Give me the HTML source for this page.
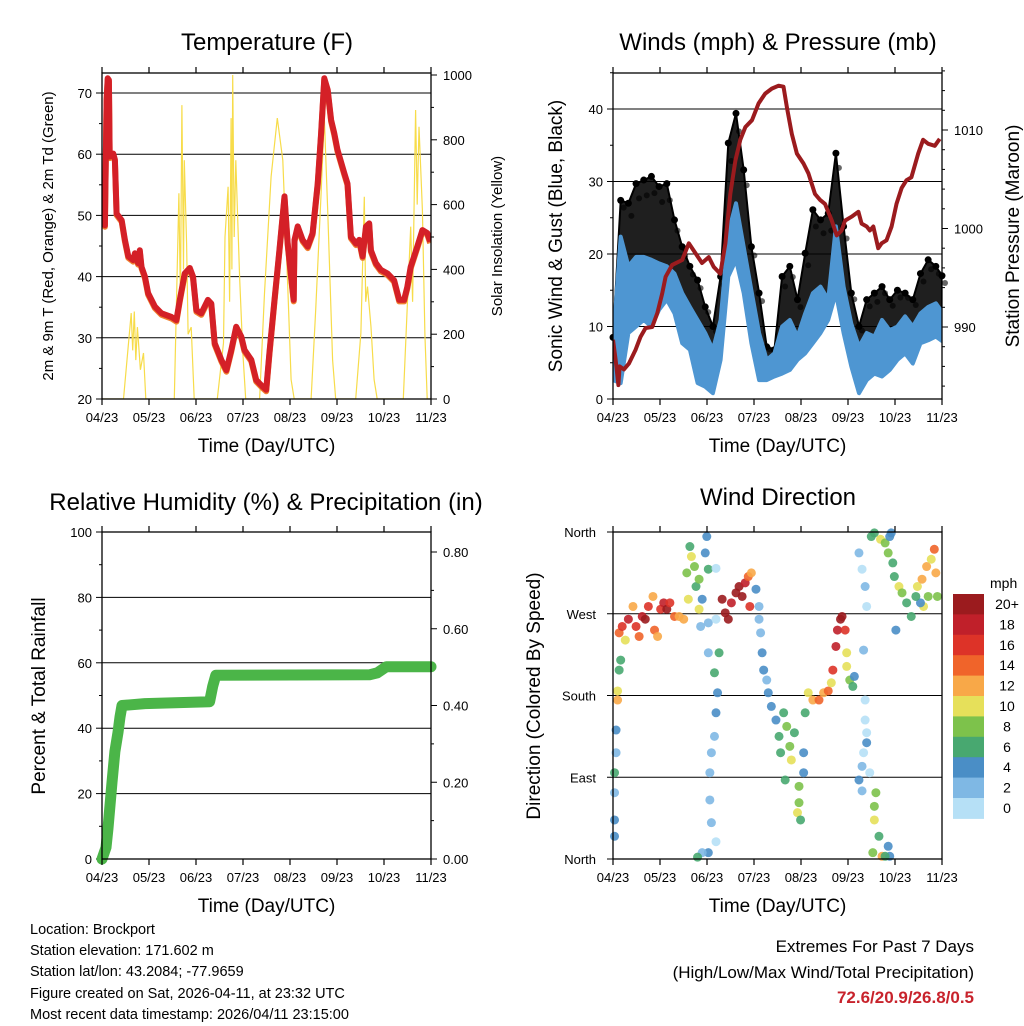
<!DOCTYPE html>
<html><head><meta charset="utf-8"><title>Station Chart</title>
<style>
html,body{margin:0;padding:0;background:#fff;}
svg{display:block;font-family:"Liberation Sans",Arial,sans-serif;}
</style></head>
<body>
<svg id="chart" width="1024" height="1024" viewBox="0 0 1024 1024" xmlns="http://www.w3.org/2000/svg">
<rect x="0" y="0" width="1024" height="1024" fill="#fff"/>
<g id="layer"></g>
</svg>
<script>
// ---------- DATA ----------
const dateTicks = ["04/23","05/23","06/23","07/23","08/23","09/23","10/23","11/23"];
const dayMax = 214;

// Temperature (F)
const tempDays = [0,1.9,3.0,3.7,4.5,5.0,7.3,8.4,9.5,12.8,14.9,17.1,20.3,21.4,23.5,24.6,25.7,27.9,30.0,34.4,38.7,45.2,48.4,50.6,53.8,57.1,59.2,61.4,64.6,68.9,71.1,73.3,77.6,80.9,84.1,87.3,90.6,92.7,97.1,100.3,104.6,106.8,108.9,112.2,115.4,118.7,120.8,123.0,124.7,125.2,127.3,130.5,133.8,137.0,140.3,142.5,144.6,146.8,149.0,151.1,153.2,157.6,159.7,161.9,165.2,167.3,169.5,171.7,173.8,174.9,178.1,181.4,185.7,190.0,193.3,196.5,198.6,200.8,205.1,208.4,211.6,213.5];
const tempVals = [50.3,48.4,68.9,72.4,72.1,59.6,60.1,59.1,50.3,49.2,46.0,43.3,42.7,43.8,42.2,44.3,41.6,40.0,37.3,35.1,34.0,33.4,32.9,36.2,40.5,41.4,40.0,34.5,34.0,36.2,35.6,29.1,26.4,24.7,28.0,31.8,30.2,28.0,26.4,23.1,22.0,21.5,27.5,36.2,44.3,53.1,45.4,40.0,36.2,46.0,48.2,46.0,44.9,47.1,55.2,63.4,72.4,70.5,65.6,63.4,60.7,56.9,55.2,46.5,45.4,46.0,43.3,48.2,48.7,44.3,42.2,41.1,40.5,39.4,36.2,36.2,38.3,41.6,44.9,47.6,47.1,45.7];
const tempTicks = [20,30,40,50,60,70];

// Solar insolation (W/m2)
const solarDays = [0,14,19,20,21,22,23,25,27,28.5,47,50,51,52,53,53.5,55,56,58,60,75,79,80,82,83,84,84.5,85,86,87,89.5,91.5,93.5,102.5,105.7,110,114,117.6,121,123,125,136,139,142.5,144.6,146.8,150,152,165,168.4,170.6,171.5,172.7,175,177,179,196,200.8,202,204,205,206.2,208.4,210,211.5,214];
const solarVals = [0,0,265,150,270,120,222,90,142,0,0,635,300,907,400,737,480,200,222,0,0,173,500,655,300,867,400,1000,500,737,377,150,0,0,327,686,867,737,327,60,0,0,275,635,871,583,120,0,0,204,624,300,347,222,60,0,0,532,300,892,600,840,583,200,0,0];
const solarTicks = [0,200,400,600,800,1000];

// Winds (mph) on a 5-day grid
const windDays = [0,5,10,15,20,25,30,35,40,45,50,55,60,65,70,75,80,85,90,95,100,105,110,115,120,125,130,135,140,145,150,155,160,165,170,175,180,185,190,195,200,205,210,214];
const windLow  = [2.6,2.2,9.1,10,10.9,10,12.3,13.7,11.8,7.7,6.8,2.2,1.7,0.8,5.4,16.9,19.2,14.6,7.7,2.6,2.6,3.1,3.5,4,5.4,6.3,7.7,9.1,10.9,14.6,9.1,4.5,0.8,2.6,3.5,3.1,4,5.4,6.3,4.9,7.7,8.1,8.6,8.0];
const windHigh = [7.7,22.4,18.3,19.6,19.6,19.2,18.7,18.3,17.3,14.6,12.7,10.9,9.1,6.8,10.9,22.9,27,21,15,9.1,5.4,6.3,10,10.9,8.6,11.8,14.6,15.5,13.7,23.8,15.5,10.4,7.2,9.1,8.6,10.9,9.5,10,11.4,10,11.8,12.7,13.2,12.0];
const gustHigh = [8.5,27.4,27,29.7,30.2,30.7,29.3,29.7,24.7,21,18.3,16.4,12.7,10,16.9,35.3,39.4,31.6,21,14.6,7.2,6.8,16.9,18.3,13.7,20.1,26.1,24.7,25.6,33.9,23.8,14.6,10,13.7,14.6,15.5,13.7,15,14.6,13.7,17.3,19.2,18.3,17.0];
const windTicks = [0,10,20,30,40];

// Station pressure (mb)
const presDays = [0,1.7,3.5,4.3,7.1,10.4,14.7,17.9,21.2,25.5,28.8,32.0,34.2,38.5,45.0,49.3,53.6,57.9,62.3,65.5,69.8,73.1,76.3,79.6,82.8,86.1,90.4,94.7,99.0,103.3,107.7,110.9,113.1,116.3,119.6,123.9,127.1,131.4,134.7,137.9,142.3,145.5,148.7,150.9,155.2,159.6,161.7,165.0,167.1,169.3,172.5,174.7,177.9,181.2,184.4,187.7,190.9,194.1,198.5,201.7,205.0,209.3,212.5];
const presVals = [988.7,986.7,984.1,986.0,985.7,986.3,987.7,989.0,989.9,990.0,991.4,993.4,995.1,996.3,996.8,998.5,997.5,996.5,997.1,996.1,995.4,998.5,1003.5,1006.9,1009.0,1010.3,1011.0,1012.7,1013.7,1014.2,1014.5,1014.4,1012.3,1009.6,1007.6,1006.6,1005.6,1003.5,1002.9,1002.5,1000.8,999.3,999.8,1000.8,1001.2,1001.7,1000.5,1000.2,999.8,1000.2,998.0,998.5,998.8,1000.2,1002.5,1004.1,1004.9,1005.2,1007.6,1009.0,1008.6,1008.4,1009.1];
const presTicks = [990,1000,1010];

// Precipitation (in)
const precipDays = [0,2.6,3.9,5.2,6.5,8.4,10.4,11.7,13,27.9,70,72,74,174,179,185,214];
const precipVals = [0,0.03,0.08,0.14,0.2,0.28,0.33,0.37,0.40,0.405,0.41,0.45,0.479,0.48,0.485,0.501,0.501];
const rhTicks = [0,20,40,60,80,100];
const precipTicks = ["0.00","0.20","0.40","0.60","0.80"];

// Wind direction (deg) colored by speed (mph)
const dirDays = [1,1,1,1,2,2,3,3,4,5, 4,6,8,10,13,15,17,19,21,23,26,27,29,31,33,35,37,40,43,46, 48,50,51,53,54,56,58,60,61,62,49,56, 57,62,67,67,62,66,69,68,67,66,64,63,63,64,67,62,58,55, 71,73,75,77,80,82,84,86,88,90,89,93,95, 95,96,97,98,100,101,103,106,108,109,111,113,115,116,112,118, 121,121,120,122,124,124,125, 127,130,134,137,140,142,143, 145,146,148,149,151,152,152,154,156,157, 160,162,164,165,163,164,164,165,165,163,162,167,162,160, 168,170,174,177,179,180,181,182,183,186,188,191,194,184, 171,170,170,173,169,175,179,180,177, 198,201,204,207,209,210,211,205,202,200,197];
const dirDeg  = [25,43,73,95,117,142,175,185,208,219, 249,256,241,264,278,256,245,267,264,278,289,252,245,275,282,275,282,267,267,264, 315,344,333,322,300,308,286,337,355,319,286,275, 256,260,264,320,227,205,227,183,161,135,117,95,65,40,19,7,7,2, 286,271,264,282,293,300,289,304,311,315,278,297,278, 264,249,227,208,197,183,168,153,135,117,161,146,124,109,87,139, 80,62,51,43,95,117,161, 183,175,175,183,185,194,208, 234,252,264,267,252,227,212,197,190,201, 337,319,300,278,230,175,153,139,128,117,102,95,75,87, 355,359,352,348,337,355,359,326,311,300,293,282,267,252, 73,58,43,25,7,3,14,3,3, 300,308,322,330,341,315,289,289,278,282,289];
const dirSpd  = [4,4,3,6,2,4,12,10,7,6, 14,16,10,18,12,16,14,18,20,16,12,14,12,16,18,20,16,14,12,12, 8,6,10,8,6,8,4,5,4,6,10,10, 2,3,1,1,3,6,6,4,4,2,3,2,2,2,1,4,2,6, 20,20,20,18,20,20,20,18,14,12,16,4,3, 3,2,4,4,3,4,4,4,6,6,6,8,8,10,7,6, 8,8,10,7,4,4,6, 10,12,14,12,14,10,16, 18,18,20,20,16,10,10,8,6,4, 3,1,2,0,2,1,1,1,4,1,2,0,3,4, 6,6,10,8,8,4,4,6,6,10,8,6,6,4, 8,8,10,6,8,12,4,4,6, 10,12,12,10,14,12,8,8,10,4,6];
const dirTicks = ["North","East","South","West","North"];
const speedBins = ["0","2","4","6","8","10","12","14","16","18","20+"];
const speedColors = ["#b6e0f6","#7fb8e4","#4a8ec6","#48a870","#7dc24b","#e6e05a","#f8a848","#f0642a","#dd3328","#c0202a","#9b1b1e"];

// ---------- HELPERS ----------
const NS = "http://www.w3.org/2000/svg";
const root = document.getElementById("layer");
function mk(tag, attrs, parent) {
  const e = document.createElementNS(NS, tag);
  for (const k in attrs) e.setAttribute(k, attrs[k]);
  (parent || root).appendChild(e);
  return e;
}
function txt(s, x, y, size, anchor, parent, extra) {
  const e = mk("text", Object.assign({x:x, y:y, "font-size":size, "text-anchor":anchor||"middle", fill:"#000"}, extra||{}), parent);
  e.textContent = s;
  return e;
}
function lin(d0,d1,r0,r1){ return v => r0 + (v-d0)*(r1-r0)/(d1-d0); }

function panel(name) {
  const g = mk("g", {});
  
  
  return g;
}
function frame(g, x0,x1,y0,y1){
  const r = mk("rect",{x:x0,y:y0,width:x1-x0,height:y1-y0,fill:"none",stroke:"#000","stroke-width":1.3}, g);
  
  
}
function xAxis(g, x0,x1,y0,y1){
  const xs = lin(0,7,x0,x1);
  for (let i=0;i<dateTicks.length;i++){
    const x = xs(i);
    mk("line",{x1:x,y1:y1,x2:x,y2:y1+6,stroke:"#000","stroke-width":1.2},g);
    mk("line",{x1:x,y1:y0,x2:x,y2:y0-6,stroke:"#000","stroke-width":1.2},g);
    const t = txt(dateTicks[i], x, y1+23, 13, "middle", g);
    
    
  }
  const t = txt("Time (Day/UTC)", (x0+x1)/2, y1+53, 19, "middle", g);
  
  
}
function grid(g, x0,x1,y){
  const l = mk("line",{x1:x0,y1:y,x2:x1,y2:y,stroke:"#000","stroke-width":1},g);
  
  
}
function leftTick(g,x0,y,label,major){
  mk("line",{x1:x0,y1:y,x2:x0-(major?6:3),y2:y,stroke:"#000","stroke-width":1},g);
  if(label!==null){
    const t = txt(label, x0-10, y+5, 13, "end", g);
    
    
  }
}
function rightTick(g,x1,y,label,major){
  mk("line",{x1:x1,y1:y,x2:x1+(major?6:3),y2:y,stroke:"#000","stroke-width":1},g);
  if(label!==null){
    const t = txt(label, x1+12, y+5, 13, "start", g);
    
    
  }
}
function vTitle(g, s, x, y, size, name){
  const t = txt(s, x, y, size, "middle", g, {transform:"rotate(-90 "+x+" "+y+")"});
  
  
}
function title(g, s, x, y){
  const t = txt(s, x, y, 24, "middle", g);
  
  
}
function pathFrom(xsArr, ysArr, xf, yf){
  let d="";
  for(let i=0;i<xsArr.length;i++) d += (i?"L":"M")+xf(xsArr[i]).toFixed(1)+","+yf(ysArr[i]).toFixed(1);
  return d;
}

// ---------- PANEL 1: TEMPERATURE ----------
(function(){
  const x0=102,x1=431,y0=73,y1=399;
  const g = panel("temperature-panel");
  const X = lin(0,dayMax,x0,x1);
  const Y = lin(20,70,399,93);
  const YS = lin(0,1000,399,75);
  title(g,"Temperature (F)", 267, 50);
  tempTicks.forEach(v=>{ if(v>20) grid(g,x0,x1,Y(v)); leftTick(g,x0,Y(v),String(v),true); });
  for(let v=25;v<=70;v+=10) leftTick(g,x0,Y(v),null,false);
  solarTicks.forEach(v=>rightTick(g,x1,YS(v),String(v),true));
  for(let v=100;v<1000;v+=200) rightTick(g,x1,YS(v),null,false);
  const clip = mk("clipPath",{id:"c1"},g); mk("rect",{x:x0,y:y0,width:x1-x0,height:y1-y0},clip);
  const sol = mk("path",{d:pathFrom(solarDays,solarVals,X,YS),fill:"none",stroke:"#f7dc4a","stroke-width":1.2,"clip-path":"url(#c1)"},g);
  
  
  const tOr = mk("path",{d:pathFrom(tempDays,tempVals,X,v=>Y(v)+1.5),fill:"none",stroke:"#f08030","stroke-width":6,"stroke-linejoin":"round","clip-path":"url(#c1)"},g);
  
  
  const tRed = mk("path",{d:pathFrom(tempDays,tempVals,X,Y),fill:"none",stroke:"#d42027","stroke-width":6,"stroke-linejoin":"round","clip-path":"url(#c1)"},g);
  
  
  frame(g,x0,x1,y0,y1);
  xAxis(g,x0,x1,y0,y1);
  vTitle(g,"2m & 9m T (Red, Orange) & 2m Td (Green)", 53, 236, 15, "y-axis-title");
  vTitle(g,"Solar Insolation (Yellow)", 502, 236, 15, "y2-axis-title");
})();

// ---------- PANEL 2: WINDS & PRESSURE ----------
(function(){
  const x0=613,x1=942,y0=73,y1=399;
  const g = panel("winds-panel");
  const X = lin(0,dayMax,x0,x1);
  const Y = lin(0,40,399,109);
  const YP = lin(990,1010,327,130);
  title(g,"Winds (mph) & Pressure (mb)", 778, 50);
  windTicks.forEach(v=>{ if(v>0) grid(g,x0,x1,Y(v)); leftTick(g,x0,Y(v),String(v),true); });
  for(let v=5;v<=45;v+=10) leftTick(g,x0,Y(v),null,false);
  presTicks.forEach(v=>rightTick(g,x1,YP(v),String(v),true));
  for(let v=984;v<=1016;v+=2) if(v%10) rightTick(g,x1,YP(v),null,false);
  const clip = mk("clipPath",{id:"c2"},g); mk("rect",{x:x0,y:y0,width:x1-x0,height:y1-y0},clip);
  let d = pathFrom(windDays,gustHigh,X,Y);
  for(let i=windDays.length-1;i>=0;i--) d += "L"+X(windDays[i]).toFixed(1)+","+Y(windHigh[i]).toFixed(1);
  const gb = mk("path",{d:d+"Z",fill:"#000","fill-opacity":0.88,stroke:"#000","stroke-width":2,"stroke-linejoin":"round","clip-path":"url(#c2)"},g);
  
  
  windDays.forEach((t,i)=>{
    const c = mk("circle",{cx:X(t),cy:Y(gustHigh[i]),r:3.5,fill:"#000"},g);
    
    
    const c2 = mk("circle",{cx:X(t)+3,cy:Y((gustHigh[i]+windHigh[i])/2+ (gustHigh[i]-windHigh[i])*0.3),r:3,fill:"#000","fill-opacity":0.6},g);
    
    
  });
  let d2 = pathFrom(windDays,windHigh,X,Y);
  for(let i=windDays.length-1;i>=0;i--) d2 += "L"+X(windDays[i]).toFixed(1)+","+Y(windLow[i]).toFixed(1);
  const wb = mk("path",{d:d2+"Z",fill:"#4e96d2",stroke:"#4e96d2","stroke-width":4,"stroke-linejoin":"round","clip-path":"url(#c2)"},g);
  
  
  const pl = mk("path",{d:pathFrom(presDays,presVals,X,YP),fill:"none",stroke:"#9b1b1e","stroke-width":4,"stroke-linejoin":"round","clip-path":"url(#c2)"},g);
  
  
  frame(g,x0,x1,y0,y1);
  xAxis(g,x0,x1,y0,y1);
  vTitle(g,"Sonic Wind & Gust (Blue, Black)", 562, 236, 19, "y-axis-title");
  vTitle(g,"Station Pressure (Maroon)", 1019, 236, 19, "y2-axis-title");
})();

// ---------- PANEL 3: RH & PRECIP ----------
(function(){
  const x0=102,x1=431,y0=532,y1=859;
  const g = panel("humidity-precip-panel");
  const X = lin(0,dayMax,x0,x1);
  const Y = lin(0,100,859,532);
  const YP = lin(0,0.8,859,552);
  title(g,"Relative Humidity (%) & Precipitation (in)", 266, 510);
  rhTicks.forEach(v=>{ if(v>0&&v<100) grid(g,x0,x1,Y(v)); leftTick(g,x0,Y(v),String(v),true); });
  for(let v=10;v<100;v+=20) leftTick(g,x0,Y(v),null,false);
  precipTicks.forEach(s=>rightTick(g,x1,YP(parseFloat(s)),s,true));
  for(let v=0.1;v<0.85;v+=0.2) rightTick(g,x1,YP(v),null,false);
  const pp = mk("path",{d:pathFrom(precipDays,precipVals,X,YP),fill:"none",stroke:"#4bb548","stroke-width":11,"stroke-linejoin":"round","stroke-linecap":"round"},g);
  
  
  frame(g,x0,x1,y0,y1);
  xAxis(g,x0,x1,y0,y1);
  vTitle(g,"Percent & Total Rainfall", 45, 696, 19, "y-axis-title");
})();

// ---------- PANEL 4: WIND DIRECTION ----------
(function(){
  const x0=613,x1=942,y0=532,y1=859;
  const g = panel("wind-direction-panel");
  const X = lin(0,dayMax,x0,x1);
  const Y = lin(0,360,859,532);
  title(g,"Wind Direction", 778, 505);
  dirTicks.forEach((s,i)=>{
    const y = Y(i*90);
    if(i>0&&i<4) grid(g,x0,x1,y);
    mk("line",{x1:x0,y1:y,x2:x0-6,y2:y,stroke:"#000","stroke-width":1},g);
    const t = txt(s, x0-17, y+5, 13, "end", g);
    
    
  });
  const clip = mk("clipPath",{id:"c4"},g); mk("rect",{x:x0-4,y:y0-4,width:x1-x0+8,height:y1-y0+8},clip);
  dirDays.forEach((t,i)=>{
    const ci = Math.min(10, Math.floor(dirSpd[i]/2));
    const c = mk("circle",{cx:X(t),cy:Y(dirDeg[i]),r:4.5,fill:speedColors[ci],"fill-opacity":0.9,"clip-path":"url(#c4)"},g);
    
    
  });
  frame(g,x0,x1,y0,y1);
  xAxis(g,x0,x1,y0,y1);
  vTitle(g,"Direction (Colored By Speed)", 540, 696, 19, "y-axis-title");
  const cb = mk("g",{},g);
  
  
  const cx0=953, cw=31, cyTop=594, ch=20.4;
  const ht = txt("mph", 990, 588, 14, "start", cb);
  
  
  for(let k=0;k<speedBins.length;k++){
    const idx = speedBins.length-1-k;
    const r = mk("rect",{x:cx0,y:cyTop+k*ch,width:cw,height:ch+0.5,fill:speedColors[idx]},cb);
    
    
    const t = txt(speedBins[idx], 1007, cyTop+k*ch+15, 14, "middle", cb);
    
    
  }
})();
</script>

<div style="position:absolute;left:0;top:0;width:1024px;height:1024px;pointer-events:none;font-family:'Liberation Sans',Arial,sans-serif;">
  <div style="position:absolute;left:30px;top:920px;font-size:14.5px;line-height:21.2px;color:#000;">
    <div>Location: Brockport</div>
    <div>Station elevation: 171.602 m</div>
    <div>Station lat/lon: 43.2084; -77.9659</div>
    <div>Figure created on Sat, 2026-04-11, at 23:32 UTC</div>
    <div>Most recent data timestamp: 2026/04/11 23:15:00</div>
  </div>
  <div style="position:absolute;right:50px;top:934px;font-size:17px;line-height:25.5px;text-align:right;color:#000;">
    <div>Extremes For Past 7 Days</div>
    <div>(High/Low/Max Wind/Total Precipitation)</div>
    <div style="color:#c8232c;font-weight:bold;">72.6/20.9/26.8/0.5</div>
  </div>
</div>
</body></html>
